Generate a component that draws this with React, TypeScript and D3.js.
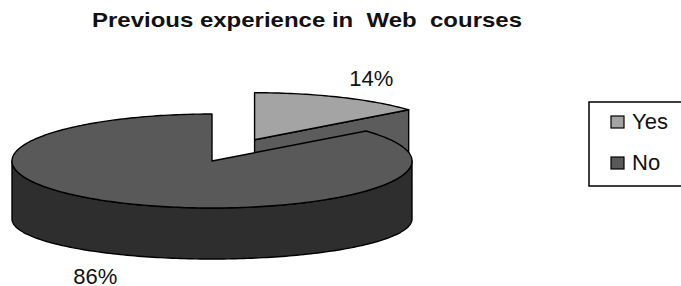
import React, { useEffect, useRef } from "react";
import * as d3 from "d3";

// chart data
const categories = ["Yes", "No"];
const values = [14, 86];
const labels = ["14%", "86%"];
const explode = [0.5, 0];

const topColors = ["#a4a4a4", "#595959"];
const sideColors = ["#5c5c5c", "#2e2e2e"];

const title = "Previous experience in  Web  courses";

const App = () => {
  const ref = useRef<SVGSVGElement>(null);

  useEffect(() => {
    const svg = d3.select(ref.current);
    svg.selectAll("*").remove();

    const width = 681;
    const height = 286;
    svg.attr("width", width).attr("height", height);

    // 3D pie geometry
    const cx = 212;
    const cy = 161;
    const rx = 200;
    const ry = 47;
    const depth = 58;
    const ryBottom = 40;

    const pie = d3.pie<number>().sort(null).value((d) => d);
    const arcs = pie(values);

    const line = d3.line();

    const topPt = (c: number[], a: number): [number, number] => [
      c[0] + rx * Math.sin(a),
      c[1] - ry * Math.cos(a),
    ];
    const botPt = (c: number[], a: number): [number, number] => [
      c[0] + rx * Math.sin(a),
      c[1] + depth - ryBottom * Math.cos(a),
    ];
    const sample = (a0: number, a1: number) => {
      const n = Math.max(2, Math.ceil(Math.abs(a1 - a0) / 0.02));
      return d3.range(n + 1).map((i) => a0 + ((a1 - a0) * i) / n);
    };

    const slices = arcs.map((d, i) => {
      const mid = (d.startAngle + d.endAngle) / 2;
      const k = explode[i];
      const c = [cx + k * rx * Math.sin(mid), cy - k * ry * Math.cos(mid)];
      return { d, i, mid, c };
    });

    const g = svg.append("g");
    const stroke = "#000";
    const sw = 1.4;

    // back slice (the exploded "Yes") first
    [0, 1].forEach((idx) => {
      const { d, i, c } = slices[idx];
      const cBot: [number, number] = [c[0], c[1] + depth];

      // cut faces that face the viewer
      const faces: number[] = [];
      if (Math.sin(d.startAngle) < -1e-6) faces.push(d.startAngle);
      if (Math.sin(d.endAngle) > 1e-6) faces.push(d.endAngle);
      faces.forEach((a) => {
        const pts: [number, number][] = [
          [c[0], c[1]],
          topPt(c, a),
          botPt(c, a),
          cBot,
        ];
        g.append("path")
          .attr("d", line(pts) + "Z")
          .attr("fill", sideColors[i])
          .attr("stroke", stroke)
          .attr("stroke-width", sw)
          .attr("stroke-linejoin", "round");
      });

      // outer wall, front part only
      const a0 = Math.max(d.startAngle, Math.PI / 2);
      const a1 = Math.min(d.endAngle, (3 * Math.PI) / 2);
      if (a1 > a0) {
        const pts = [
          ...sample(a0, a1).map((a) => topPt(c, a)),
          ...sample(a1, a0).map((a) => botPt(c, a)),
        ];
        g.append("path")
          .attr("d", line(pts) + "Z")
          .attr("fill", sideColors[i])
          .attr("stroke", stroke)
          .attr("stroke-width", sw)
          .attr("stroke-linejoin", "round");
      }

      // top face
      const topPts: [number, number][] = [
        [c[0], c[1]],
        ...sample(d.startAngle, d.endAngle).map((a) => topPt(c, a)),
      ];
      g.append("path")
        .attr("d", line(topPts) + "Z")
        .attr("fill", topColors[i])
        .attr("stroke", stroke)
        .attr("stroke-width", sw)
        .attr("stroke-linejoin", "round");
    });

    // percentage labels
    slices.forEach(({ i, mid, c }) => {
      const front = Math.cos(mid) < 0;
      const x = c[0] + 1.37 * rx * Math.sin(mid);
      const y = c[1] - 1.42 * ry * Math.cos(mid) + (front ? depth + 5 : 7);
      svg
        .append("text")
        .attr("x", x)
        .attr("y", y)
        .attr("text-anchor", "middle")
        .attr("font-family", "Liberation Sans, Arial, sans-serif")
        .attr("font-size", 22)
        .attr("fill", "#111")
        .text(labels[i]);
    });

    // title
    svg
      .append("text")
      .attr("x", 92)
      .attr("y", 27)
      .attr("font-family", "Liberation Sans, Arial, sans-serif")
      .attr("font-weight", "bold")
      .attr("font-size", 21)
      .attr("textLength", 430)
      .attr("lengthAdjust", "spacingAndGlyphs")
      .style("white-space", "pre")
      .attr("fill", "#111")
      .text(title);

    // legend
    const legend = svg.append("g");
    legend
      .append("rect")
      .attr("x", 589)
      .attr("y", 102)
      .attr("width", 110)
      .attr("height", 84)
      .attr("fill", "#fff")
      .attr("stroke", "#000")
      .attr("stroke-width", 1.5);

    const yLeg = d3.scalePoint<string>().domain(categories).range([122, 163]);
    categories.forEach((cat, i) => {
      const y = yLeg(cat) as number;
      legend
        .append("rect")
        .attr("x", 611)
        .attr("y", y - 6)
        .attr("width", 13)
        .attr("height", 12)
        .attr("fill", topColors[i])
        .attr("stroke", "#000")
        .attr("stroke-width", 1.2);
      legend
        .append("text")
        .attr("x", 632)
        .attr("y", y + 7)
        .attr("font-family", "Liberation Sans, Arial, sans-serif")
        .attr("font-size", 22)
        .attr("fill", "#111")
        .text(cat);
    });
  }, []);

  return (
    <div style={{ position: "absolute", left: 0, top: 0 }}>
      <svg ref={ref} width={681} height={286} style={{ display: "block" }} />
    </div>
  );
};

export default App;
